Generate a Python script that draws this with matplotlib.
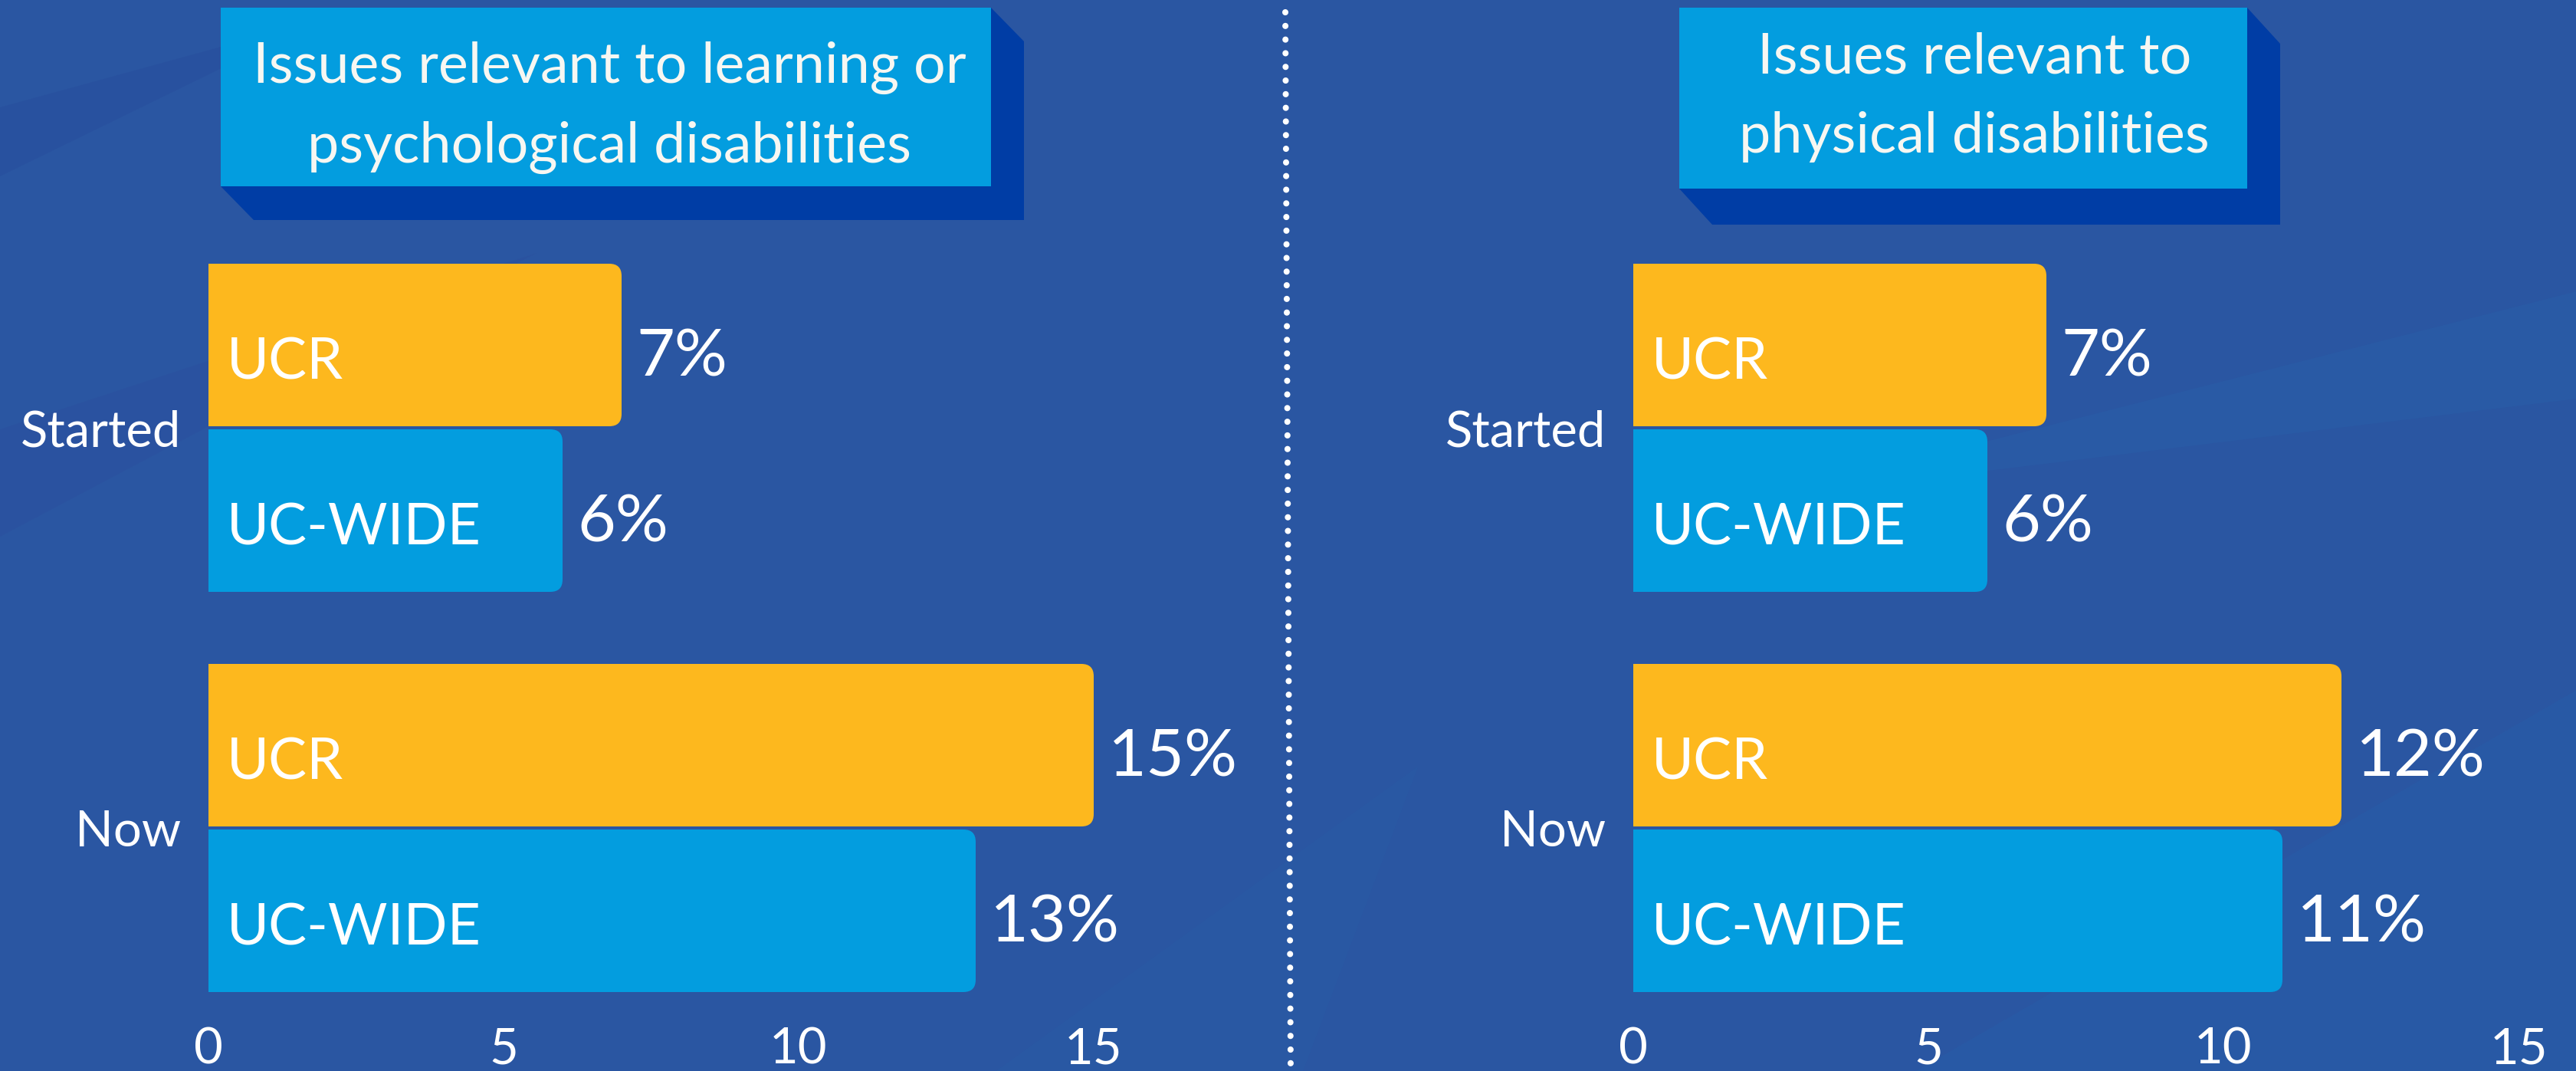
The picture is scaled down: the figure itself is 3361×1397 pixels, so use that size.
import matplotlib
matplotlib.use("Agg")
import matplotlib.pyplot as plt
from matplotlib.patches import FancyBboxPatch, Polygon, Rectangle, BoxStyle

plt.rcParams['font.family'] = ['Lato', 'DejaVu Sans']

# data
periods = ["Started", "Now"]
series = ["UCR", "UC-WIDE"]
learning_ucr = [7, 15]
learning_ucwide = [6, 13]
physical_ucr = [7, 12]
physical_ucwide = [6, 11]
xticks = [0, 5, 10, 15]
titles = [["Issues relevant to learning or", "psychological disabilities"],
          ["Issues relevant to", "physical disabilities"]]

W, H = 3362, 1397
BG = "#2A56A2"
YELLOW = "#FDB81E"
BLUE = "#039DDF"
DARK = "#003DA5"

fig = plt.figure(figsize=(W / 100, H / 100), dpi=100)
fig.patch.set_facecolor(BG)

# background layer in pixel coordinates
bg = fig.add_axes([0, 0, 1, 1], zorder=0)
bg.set_xlim(0, W)
bg.set_ylim(H, 0)
bg.axis("off")

# faint diagonal streaks
streaks = [
    ([(0, 140), (420, 25), (0, 230)], "#27499A", 0.35),
    ([(0, 560), (700, 330), (0, 700)], "#2A4C9C", 0.30),
    ([(2500, 1397), (3362, 900), (3362, 1397)], "#2662AE", 0.30),
    ([(3100, 1397), (3362, 1180), (3362, 1397)], "#2A5AA6", 0.4),
    ([(1300, 1397), (1850, 1000), (1700, 1397)], "#2862AC", 0.2),
    ([(2300, 650), (3362, 380), (3362, 520)], "#2866B0", 0.25),
]
for pts, c, a in streaks:
    bg.add_patch(Polygon(pts, closed=True, facecolor=c, edgecolor="none", alpha=a))

# dotted divider
bg.plot([1677, 1684], [16, 1400], color="white", lw=5.8,
        linestyle=(0, (0.01, 2.2)), dash_capstyle="round", solid_capstyle="round")

# title boxes (front rect + 3D extrusion)
boxes = [
    dict(x0=288, y0=10, x1=1293, y1=243, dx=43, dy=44, cx=795, base=(108, 212)),
    dict(x0=2191, y0=10, x1=2932, y1=246, dx=43, dy=47, cx=2576, base=(95, 199)),
]
for b, lines in zip(boxes, titles):
    ext = [(b["x1"], b["y0"]), (b["x1"] + b["dx"], b["y0"] + b["dy"]),
           (b["x1"] + b["dx"], b["y1"] + b["dy"]), (b["x0"] + b["dx"], b["y1"] + b["dy"]),
           (b["x0"], b["y1"]), (b["x1"], b["y1"])]
    bg.add_patch(Polygon(ext, closed=True, facecolor=DARK, edgecolor="none"))
    bg.add_patch(Rectangle((b["x0"], b["y0"]), b["x1"] - b["x0"], b["y1"] - b["y0"],
                           facecolor=BLUE, edgecolor="none"))
    for txt, yb in zip(lines, b["base"]):
        bg.text(b["cx"], yb, txt, ha="center", va="baseline", fontsize=53,
                color="#F7F7F2")

# chart panels
Y_STARTED, Y_NOW = 558, 1080      # pixel rows of group centres
AX_TOP, AX_BOT = 300, 1310
px_per_y = Y_NOW - Y_STARTED
ypos = [1, 0]
ylim = (-(AX_BOT - Y_NOW) / px_per_y, 1 + (Y_STARTED - AX_TOP) / px_per_y)
off = 108 / px_per_y
bh = 212 / px_per_y

panels = [
    (272, 1427, learning_ucr, learning_ucwide),
    (2131, 3286, physical_ucr, physical_ucwide),
]

for x0, x15, ucr, ucw in panels:
    ax = fig.add_axes([x0 / W, 1 - AX_BOT / H, (x15 - x0) / W, (AX_BOT - AX_TOP) / H],
                      zorder=1)
    ax.set_facecolor("none")
    ax.set_xlim(0, 15)
    ax.set_ylim(*ylim)
    for s in ax.spines.values():
        s.set_visible(False)

    px_per_x = (x15 - x0) / 15
    r = 16 / px_per_x
    asp = px_per_x / px_per_y

    for vals, sgn, color, name in [(ucr, 1, YELLOW, series[0]), (ucw, -1, BLUE, series[1])]:
        yc = [y + sgn * off for y in ypos]
        bars = ax.barh(yc, vals, height=bh, color=color, edgecolor="none")
        for bar, v, y in zip(bars, vals, yc):
            clip = FancyBboxPatch((-1, y - bh / 2), v + 1, bh,
                                  boxstyle=BoxStyle.Round(pad=0, rounding_size=r),
                                  mutation_aspect=asp, transform=ax.transData)
            bar.set_clip_path(clip)
            ax.annotate(name, (0, y), xytext=(17, -32), textcoords="offset points",
                        ha="left", va="baseline", fontsize=54, color="white")
            ax.annotate(f"{v}%", (v, y), xytext=(14, -29), textcoords="offset points",
                        ha="left", va="baseline", fontsize=62, color="white")

    ax.set_xticks(xticks)
    ax.set_xticklabels([str(t) for t in xticks])
    ax.set_yticks(ypos)
    ax.set_yticklabels(periods)
    ax.tick_params(axis="x", length=0, pad=21, labelsize=47, labelcolor="white")
    ax.tick_params(axis="y", length=0, pad=26, labelsize=47, labelcolor="white")

fig.savefig("out.png", dpi=100, facecolor=BG)
